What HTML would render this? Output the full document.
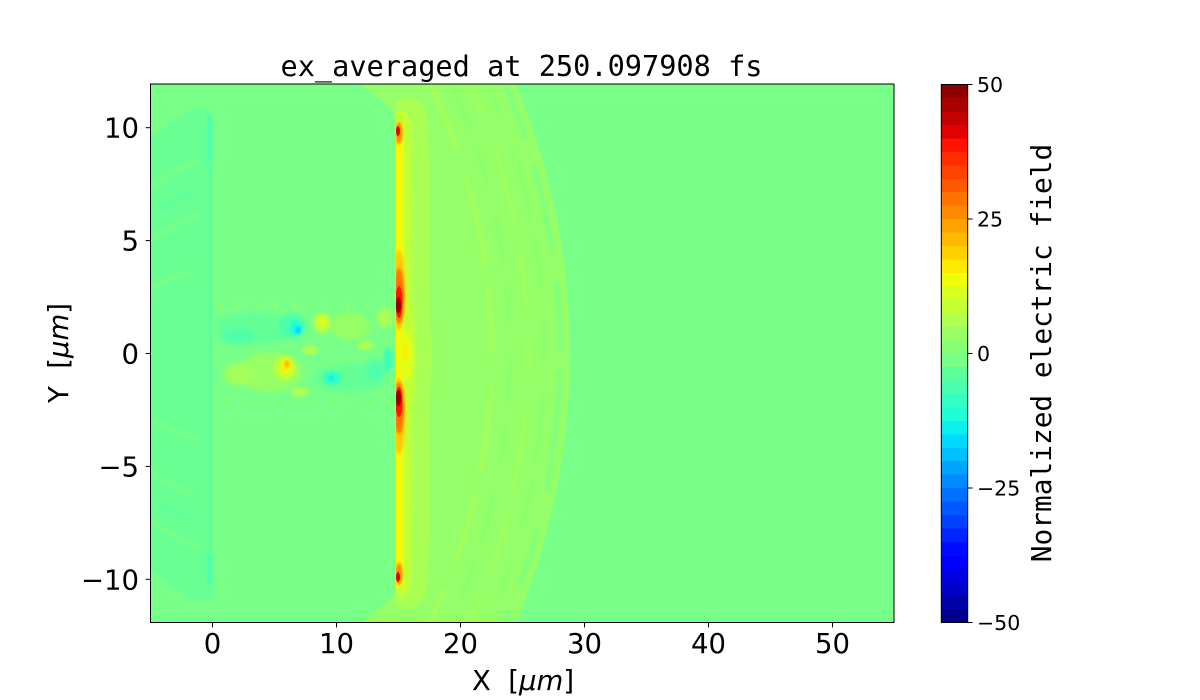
<!DOCTYPE html>
<html><head><meta charset="utf-8">
<style>
html,body{margin:0;padding:0;background:#fff;}
svg{display:block;}
text{font-family:"DejaVu Sans","Liberation Sans",sans-serif;fill:#000;}
.mono{font-family:"DejaVu Sans Mono","Liberation Mono",monospace;}
</style></head><body>
<svg width="1200" height="700" viewBox="0 0 1200 700" xmlns="http://www.w3.org/2000/svg">
<defs>
<clipPath id="c"><rect x="150.5" y="84" width="743.5" height="538.5"/></clipPath>
<clipPath id="wc"><rect x="396" y="84" width="60" height="539"/></clipPath>
<clipPath id="nc"><rect x="205" y="300" width="192" height="106"/></clipPath>
<filter id="b1" x="-30%" y="-30%" width="160%" height="160%"><feGaussianBlur stdDeviation="1.3"/></filter>
<filter id="b2" x="-30%" y="-30%" width="160%" height="160%"><feGaussianBlur stdDeviation="2.5"/></filter>
</defs>

<g clip-path="url(#c)">
<rect x="150" y="84" width="745" height="539" fill="rgb(120,255,135)"/>

<path d="M150,140 C168,122 188,110 203,108 Q213,107 213,118 L213,592 Q213,602 203,601 C185,598 165,585 150,568 Z" fill="rgb(106,255,146)"/>
<g fill="none" stroke="rgb(120,255,135)" stroke-width="4" filter="url(#b1)">
<path d="M150,190 Q172,170 198,160"/>
<path d="M152,240 Q175,222 200,215"/>
<path d="M150,290 Q170,275 195,272"/>
<path d="M152,420 Q175,432 200,440"/>
<path d="M150,470 Q172,488 198,495"/>
<path d="M152,520 Q175,540 200,548"/>
</g>
<g fill="none" stroke="rgb(90,255,160)" stroke-width="3" filter="url(#b1)">
<path d="M155,215 Q175,198 196,192"/>
<path d="M155,500 Q175,515 196,522"/>
</g>
<rect x="207" y="115" width="5" height="48" fill="rgb(73,255,173)" filter="url(#b1)"/>
<rect x="207" y="555" width="5" height="30" fill="rgb(73,255,173)" filter="url(#b1)"/>
<rect x="209" y="160" width="3" height="395" fill="rgb(92,255,156)"/>

<path d="M360,84 L516,84 A697,697 0 0 1 516,622.5 L362,622.5 C380,606 392,599 396,592 L396,118 C390,106 375,95 360,84 Z" fill="rgb(148,255,104)"/>
<g fill="none" filter="url(#b1)">
<path d="M505,84 A688,688 0 0 1 505,622.5" stroke="rgb(128,255,125)" stroke-dasharray="60 25 90 30 70 20 120 40" stroke-width="5"/>
<path d="M488,84 A672,672 0 0 1 488,622.5" stroke="rgb(135,255,112)" stroke-dasharray="40 30 70 20 50 35" stroke-width="3"/>
<path d="M470,84 A655,655 0 0 1 470,622.5" stroke="rgb(165,255,90)" stroke-dasharray="30 40 80 25 60 30" stroke-width="3"/>
<path d="M450,84 A637,637 0 0 1 450,622.5" stroke="rgb(135,255,112)" stroke-dasharray="50 20 40 30" stroke-width="3"/>
<path d="M430,84 A618,618 0 0 1 430,622.5" stroke="rgb(168,255,86)" stroke-dasharray="70 30 90 20" stroke-width="4"/>
</g>

<path d="M396,102 C405,94 420,97 426,112 C432,160 428,300 432,353 C428,420 432,540 426,594 C420,609 405,611 396,604 Z" fill="rgb(170,255,84)" filter="url(#b1)"/>
<path d="M396,113 C401,108 407,110 410,122 L411,300 C416,330 416,380 411,410 L410,586 C407,597 401,599 396,594 Z" fill="rgb(196,255,51)" filter="url(#b1)"/>
<path d="M396,120 L404,124 L404,586 L396,590 Z" fill="rgb(222,255,26)"/>
<path d="M396,122 L401,126 L401,584 L396,588 Z" fill="rgb(250,245,0)"/>
<ellipse cx="406" cy="356" rx="7" ry="24" fill="rgb(225,255,25)" filter="url(#b1)"/>
<ellipse cx="405" cy="352" rx="3" ry="10" fill="rgb(250,240,0)" filter="url(#b1)"/>
<g clip-path="url(#wc)">
<ellipse cx="399" cy="133" rx="3.5" ry="11" fill="rgb(255,137,0)" filter="url(#b1)"/>
<ellipse cx="398" cy="131" rx="2" ry="5" fill="rgb(227,0,0)"/>
<ellipse cx="399" cy="290" rx="6" ry="40" fill="rgb(255,200,0)" filter="url(#b1)"/>
<ellipse cx="399" cy="296" rx="5" ry="28" fill="rgb(255,115,0)" filter="url(#b1)"/>
<ellipse cx="399" cy="302" rx="3.5" ry="16" fill="rgb(255,19,0)"/>
<ellipse cx="398.5" cy="305" rx="2.5" ry="8" fill="rgb(141,0,0)"/>
<ellipse cx="399" cy="416" rx="6" ry="38" fill="rgb(255,200,0)" filter="url(#b1)"/>
<ellipse cx="399" cy="408" rx="5" ry="26" fill="rgb(255,115,0)" filter="url(#b1)"/>
<ellipse cx="399" cy="402" rx="3.5" ry="15" fill="rgb(255,19,0)"/>
<ellipse cx="398.5" cy="398" rx="2.5" ry="8" fill="rgb(141,0,0)"/>
<ellipse cx="399" cy="574" rx="3.5" ry="11" fill="rgb(255,137,0)" filter="url(#b1)"/>
<ellipse cx="398" cy="577" rx="2" ry="5" fill="rgb(227,0,0)"/>
</g>

<g clip-path="url(#nc)">
<g filter="url(#b2)">
<ellipse cx="255" cy="328" rx="42" ry="16" fill="rgb(100,255,150)"/>
<ellipse cx="238" cy="336" rx="18" ry="8" fill="rgb(80,255,168)"/>
<ellipse cx="292" cy="326" rx="14" ry="12" fill="rgb(73,255,173)"/>
<ellipse cx="350" cy="326" rx="20" ry="14" fill="rgb(150,255,102)"/>
<ellipse cx="270" cy="372" rx="32" ry="20" fill="rgb(150,255,102)"/>
<ellipse cx="240" cy="374" rx="16" ry="11" fill="rgb(165,255,90)"/>
<ellipse cx="350" cy="378" rx="36" ry="14" fill="rgb(100,255,150)"/>
<ellipse cx="375" cy="370" rx="10" ry="11" fill="rgb(80,255,168)"/>
<ellipse cx="385" cy="318" rx="8" ry="10" fill="rgb(170,255,84)"/>
</g>
<g filter="url(#b1)">
<ellipse cx="296" cy="328" rx="6" ry="7" fill="rgb(31,255,215)"/>
<ellipse cx="298" cy="330" rx="3" ry="4" fill="rgb(0,216,255)"/>
<ellipse cx="322" cy="323" rx="9" ry="11" fill="rgb(177,255,78)"/>
<ellipse cx="322" cy="322" rx="5" ry="6" fill="rgb(215,255,31)"/>
<ellipse cx="285" cy="368" rx="11" ry="12" fill="rgb(196,255,51)"/>
<ellipse cx="286" cy="366" rx="5" ry="7" fill="rgb(245,245,0)"/>
<ellipse cx="287" cy="364" rx="2.5" ry="4" fill="rgb(255,185,0)"/>
<ellipse cx="332" cy="378" rx="9" ry="7" fill="rgb(51,255,196)"/>
<ellipse cx="331" cy="378" rx="3" ry="3" fill="rgb(9,240,238)"/>
<ellipse cx="388" cy="360" rx="5" ry="12" fill="rgb(60,255,185)"/>
<ellipse cx="365" cy="345" rx="8" ry="5" fill="rgb(170,255,84)"/>
<ellipse cx="310" cy="350" rx="8" ry="5" fill="rgb(170,255,84)"/>
<ellipse cx="300" cy="392" rx="9" ry="5" fill="rgb(170,255,84)"/>
</g>
<g fill="rgb(140,255,110)">
<circle cx="222" cy="306" r="2"/><circle cx="240" cy="306" r="2"/><circle cx="258" cy="306" r="2"/><circle cx="276" cy="306" r="2"/><circle cx="294" cy="306" r="2"/><circle cx="312" cy="306" r="2"/><circle cx="330" cy="306" r="2"/><circle cx="348" cy="306" r="2"/><circle cx="366" cy="306" r="2"/><circle cx="384" cy="306" r="2"/>
<circle cx="226" cy="401" r="2"/><circle cx="244" cy="401" r="2"/><circle cx="262" cy="401" r="2"/><circle cx="280" cy="401" r="2"/><circle cx="298" cy="401" r="2"/><circle cx="316" cy="401" r="2"/><circle cx="334" cy="401" r="2"/><circle cx="352" cy="401" r="2"/><circle cx="370" cy="401" r="2"/><circle cx="388" cy="401" r="2"/>
</g>
</g>
</g>
<rect x="150.5" y="84" width="743.5" height="538.5" fill="none" stroke="#000" stroke-width="1"/>

<text class="mono" x="521.5" y="76" text-anchor="middle" font-size="28.6">ex_averaged at 250.097908 fs</text>

<g stroke="#000" stroke-width="1">
<line x1="145.6" y1="127.7" x2="150.5" y2="127.7"/>
<line x1="145.6" y1="240.6" x2="150.5" y2="240.6"/>
<line x1="145.6" y1="353.5" x2="150.5" y2="353.5"/>
<line x1="145.6" y1="466.4" x2="150.5" y2="466.4"/>
<line x1="145.6" y1="579.3" x2="150.5" y2="579.3"/>
<line x1="212.5" y1="622.5" x2="212.5" y2="627.4"/>
<line x1="336.5" y1="622.5" x2="336.5" y2="627.4"/>
<line x1="460.5" y1="622.5" x2="460.5" y2="627.4"/>
<line x1="584.5" y1="622.5" x2="584.5" y2="627.4"/>
<line x1="708.5" y1="622.5" x2="708.5" y2="627.4"/>
<line x1="832.5" y1="622.5" x2="832.5" y2="627.4"/>
</g>
<g font-size="27.5" text-anchor="end">
<text x="139" y="137.7">10</text>
<text x="139" y="250.6">5</text>
<text x="139" y="363.5">0</text>
<text x="139" y="476.4">−5</text>
<text x="139" y="589.3">−10</text>
</g>
<g font-size="27.5" text-anchor="middle">
<text x="212.5" y="653">0</text>
<text x="336.5" y="653">10</text>
<text x="460.5" y="653">20</text>
<text x="584.5" y="653">30</text>
<text x="708.5" y="653">40</text>
<text x="832.5" y="653">50</text>
</g>
<text x="523" y="690" text-anchor="middle" font-size="27.5">X&#160;&#160;[<tspan font-style="italic">μm</tspan>]</text>
<text transform="translate(68,353) rotate(-90)" text-anchor="middle" font-size="27.5">Y&#160;&#160;[<tspan font-style="italic">μm</tspan>]</text>

<g shape-rendering="crispEdges">
<rect x="941.3" y="609.05" width="26.4" height="13.55" fill="rgb(0,0,141)"/>
<rect x="941.3" y="595.6" width="26.4" height="13.55" fill="rgb(0,0,168)"/>
<rect x="941.3" y="582.15" width="26.4" height="13.55" fill="rgb(0,0,200)"/>
<rect x="941.3" y="568.7" width="26.4" height="13.55" fill="rgb(0,0,227)"/>
<rect x="941.3" y="555.25" width="26.4" height="13.55" fill="rgb(0,0,255)"/>
<rect x="941.3" y="541.8" width="26.4" height="13.55" fill="rgb(0,12,255)"/>
<rect x="941.3" y="528.35" width="26.4" height="13.55" fill="rgb(0,36,255)"/>
<rect x="941.3" y="514.9" width="26.4" height="13.55" fill="rgb(0,64,255)"/>
<rect x="941.3" y="501.45" width="26.4" height="13.55" fill="rgb(0,88,255)"/>
<rect x="941.3" y="488" width="26.4" height="13.55" fill="rgb(0,112,255)"/>
<rect x="941.3" y="474.55" width="26.4" height="13.55" fill="rgb(0,140,255)"/>
<rect x="941.3" y="461.1" width="26.4" height="13.55" fill="rgb(0,164,255)"/>
<rect x="941.3" y="447.65" width="26.4" height="13.55" fill="rgb(0,192,255)"/>
<rect x="941.3" y="434.2" width="26.4" height="13.55" fill="rgb(0,216,255)"/>
<rect x="941.3" y="420.75" width="26.4" height="13.55" fill="rgb(9,240,238)"/>
<rect x="941.3" y="407.3" width="26.4" height="13.55" fill="rgb(31,255,215)"/>
<rect x="941.3" y="393.85" width="26.4" height="13.55" fill="rgb(51,255,196)"/>
<rect x="941.3" y="380.4" width="26.4" height="13.55" fill="rgb(73,255,173)"/>
<rect x="941.3" y="366.95" width="26.4" height="13.55" fill="rgb(93,255,154)"/>
<rect x="941.3" y="353.5" width="26.4" height="13.55" fill="rgb(120,255,135)"/>
<rect x="941.3" y="340.05" width="26.4" height="13.55" fill="rgb(135,255,112)"/>
<rect x="941.3" y="326.6" width="26.4" height="13.55" fill="rgb(154,255,101)"/>
<rect x="941.3" y="313.15" width="26.4" height="13.55" fill="rgb(177,255,78)"/>
<rect x="941.3" y="299.7" width="26.4" height="13.55" fill="rgb(196,255,51)"/>
<rect x="941.3" y="286.25" width="26.4" height="13.55" fill="rgb(215,255,31)"/>
<rect x="941.3" y="272.8" width="26.4" height="13.55" fill="rgb(238,255,9)"/>
<rect x="941.3" y="259.35" width="26.4" height="13.55" fill="rgb(255,233,0)"/>
<rect x="941.3" y="245.9" width="26.4" height="13.55" fill="rgb(255,208,0)"/>
<rect x="941.3" y="232.45" width="26.4" height="13.55" fill="rgb(255,185,0)"/>
<rect x="941.3" y="219" width="26.4" height="13.55" fill="rgb(255,163,0)"/>
<rect x="941.3" y="205.55" width="26.4" height="13.55" fill="rgb(255,137,0)"/>
<rect x="941.3" y="192.1" width="26.4" height="13.55" fill="rgb(255,115,0)"/>
<rect x="941.3" y="178.65" width="26.4" height="13.55" fill="rgb(255,89,0)"/>
<rect x="941.3" y="165.2" width="26.4" height="13.55" fill="rgb(255,66,0)"/>
<rect x="941.3" y="151.75" width="26.4" height="13.55" fill="rgb(255,45,0)"/>
<rect x="941.3" y="138.3" width="26.4" height="13.55" fill="rgb(255,19,0)"/>
<rect x="941.3" y="124.85" width="26.4" height="13.55" fill="rgb(227,0,0)"/>
<rect x="941.3" y="111.4" width="26.4" height="13.55" fill="rgb(196,0,0)"/>
<rect x="941.3" y="97.95" width="26.4" height="13.55" fill="rgb(169,0,0)"/>
<rect x="941.3" y="84.5" width="26.4" height="13.45" fill="rgb(141,0,0)"/>
</g>
<rect x="941.3" y="84.5" width="26.4" height="538" fill="none" stroke="#000" stroke-width="1"/>
<g stroke="#000" stroke-width="1">
<line x1="967.7" y1="84.5" x2="972.6" y2="84.5"/>
<line x1="967.7" y1="219" x2="972.6" y2="219"/>
<line x1="967.7" y1="353.5" x2="972.6" y2="353.5"/>
<line x1="967.7" y1="488" x2="972.6" y2="488"/>
<line x1="967.7" y1="622.5" x2="972.6" y2="622.5"/>
</g>
<g font-size="20.5">
<text x="977" y="92">50</text>
<text x="977" y="226.5">25</text>
<text x="977" y="361">0</text>
<text x="977" y="495.5">−25</text>
<text x="977" y="630">−50</text>
</g>
<text class="mono" transform="translate(1051,353) rotate(-90)" text-anchor="middle" font-size="27.8">Normalized electric field</text>
</svg>
</body></html>
